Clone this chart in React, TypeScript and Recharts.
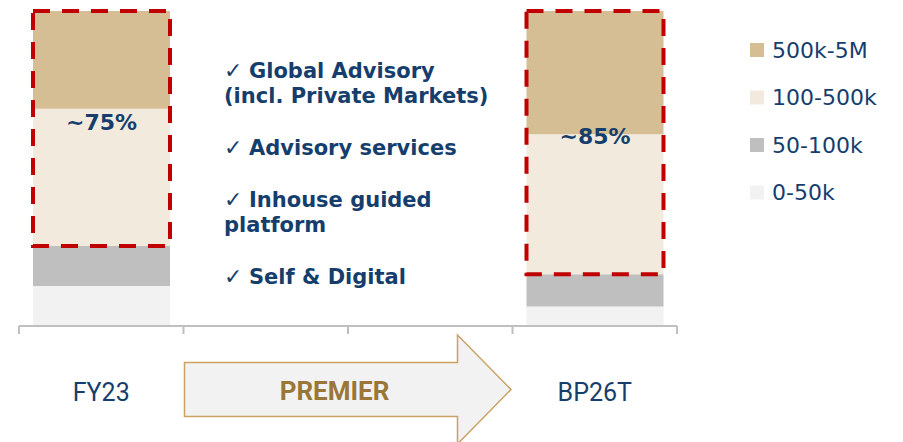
import React from 'react';
import { BarChart, Bar, XAxis, YAxis, LabelList } from 'recharts';

// share of clients per wealth band, in % of the segment
const categories = ['FY23', '', '', 'BP26T'];
const band0to50k = [12.7, 0, 0, 6.2];
const band50to100k = [12.7, 0, 0, 10.2];
const band100to500k = [43.6, 0, 0, 44.5];
const band500kto5M = [31.0, 0, 0, 39.1];
const focusLabels = ['~75%', '', '', '~85%'];

const seriesKeys = ['b0', 'b1', 'b2', 'b3'];
const seriesNames = ['0-50k', '50-100k', '100-500k', '500k-5M'];

const offerings = [
  ['Global Advisory', '(incl. Private Markets)'],
  ['Advisory services'],
  ['Inhouse guided', 'platform'],
  ['Self & Digital'],
];

const COLORS = ['#f2f2f2', '#bfbfbf', '#f2eadd', '#d6be94'];
const NAVY = '#163e6d';
const RED = '#c00000';
const GOLD_TEXT = '#9a7638';
const AXIS = '#bfbfbf';
const TICK_MARGIN = 57;

const rows = categories.map((name, i) => ({
  name,
  b0: band0to50k[i],
  b1: band50to100k[i],
  b2: band100to500k[i],
  b3: band500kto5M[i],
  base: band0to50k[i] + band50to100k[i],
  focus: band100to500k[i] + band500kto5M[i],
  tag: focusLabels[i],
}));

// category label plus small separator marks at the band edges
const CategoryTick = (props: any) => {
  const { x, y, payload, index, visibleTicksCount, width } = props;
  const half = payload?.offset ?? (width && visibleTicksCount ? width / visibleTicksCount / 2 : 0);
  const axisY = y - TICK_MARGIN;
  const isLast = index === (visibleTicksCount ?? categories.length) - 1;
  return (
    <g>
      <line x1={x - half} x2={x - half} y1={axisY} y2={axisY + 8} stroke={AXIS} strokeWidth={2} />
      {isLast && (
        <line x1={x + half} x2={x + half} y1={axisY} y2={axisY + 8} stroke={AXIS} strokeWidth={2} />
      )}
      <text
        x={x}
        y={y}
        dy="0.71em"
        textAnchor="middle"
        fill={NAVY}
        fontFamily="Roboto"
        fontSize={25}
      >
        {payload.value}
      </text>
    </g>
  );
};

const FocusLabel = (props: any) => {
  const { x, y, width, height, value } = props;
  if (!value) return null;
  return (
    <text
      x={x + width / 2}
      y={y + height / 2 - 6}
      textAnchor="middle"
      dominantBaseline="central"
      fill={NAVY}
      fontFamily="DejaVu Sans"
      fontWeight={700}
      fontSize={22}
    >
      {value}
    </text>
  );
};

const Overlay = () => {
  // bullet list in the middle
  const lines: { text: string; check: boolean; y: number }[] = [];
  let y = 78;
  offerings.forEach((group) => {
    group.forEach((t, j) => {
      lines.push({ text: t, check: j === 0, y });
      y += 25;
    });
    y += 27;
  });

  return (
    <svg
      width={903}
      height={442}
      style={{ position: 'absolute', left: 0, top: 0, pointerEvents: 'none' }}
    >
      {lines.map((l, i) => (
        <text
          key={i}
          y={l.y}
          fill={NAVY}
          fontFamily="DejaVu Sans"
          fontWeight={700}
          fontSize={21}
        >
          {l.check ? (
            <>
              <tspan x={224} fontWeight={400} fontSize={22}>
                ✓
              </tspan>
              <tspan x={249}>{l.text}</tspan>
            </>
          ) : (
            <tspan x={224}>{l.text}</tspan>
          )}
        </text>
      ))}

      {/* arrow between the two years */}
      <polygon
        points="184.5,362.5 457.5,362.5 457.5,335 511,389.5 457.5,444 457.5,416.5 184.5,416.5"
        fill="#f2f2f2"
        stroke="#c9a264"
        strokeWidth={1.5}
      />
      <text
        x={334.5}
        y={400}
        textAnchor="middle"
        fill={GOLD_TEXT}
        fontFamily="Roboto"
        fontWeight={700}
        fontSize={26}
      >
        PREMIER
      </text>

      {/* legend, largest band on top */}
      {seriesNames
        .map((name, i) => ({ name, color: COLORS[i] }))
        .reverse()
        .map((item, i) => (
          <g key={item.name}>
            <rect x={750} y={43 + i * 47.5} width={14} height={14} fill={item.color} />
            <text
              x={772}
              y={57.5 + i * 47.5}
              fill={NAVY}
              fontFamily="DejaVu Sans"
              fontSize={22}
            >
              {item.name}
            </text>
          </g>
        ))}
    </svg>
  );
};

export default function App() {
  return (
    <div style={{ position: 'absolute', left: 0, top: 0, width: 903, height: 442, background: '#fff' }}>
      <BarChart
        width={903}
        height={442}
        data={rows}
        margin={{ top: 11, right: 226, bottom: 0, left: 19 }}
      >
        <YAxis hide domain={[0, 100]} />
        <XAxis
          xAxisId="cat"
          dataKey="name"
          interval={0}
          axisLine={{ stroke: AXIS, strokeWidth: 2 }}
          tickLine={false}
          tickSize={0}
          tickMargin={TICK_MARGIN}
          height={116}
          tick={<CategoryTick />}
        />
        <XAxis xAxisId="outline" dataKey="name" hide />
        {seriesKeys.map((k, i) => (
          <Bar
            key={k}
            xAxisId="cat"
            dataKey={k}
            name={seriesNames[i]}
            stackId="share"
            fill={COLORS[i]}
            barSize={137}
            isAnimationActive={false}
          />
        ))}
        <Bar
          xAxisId="outline"
          dataKey="base"
          stackId="outline"
          fill="transparent"
          barSize={137}
          isAnimationActive={false}
        />
        <Bar
          xAxisId="outline"
          dataKey="focus"
          stackId="outline"
          fill="none"
          stroke={RED}
          strokeWidth={4}
          strokeDasharray="17 12"
          barSize={137}
          isAnimationActive={false}
        >
          <LabelList dataKey="tag" content={FocusLabel} />
        </Bar>
      </BarChart>
      <Overlay />
    </div>
  );
}
